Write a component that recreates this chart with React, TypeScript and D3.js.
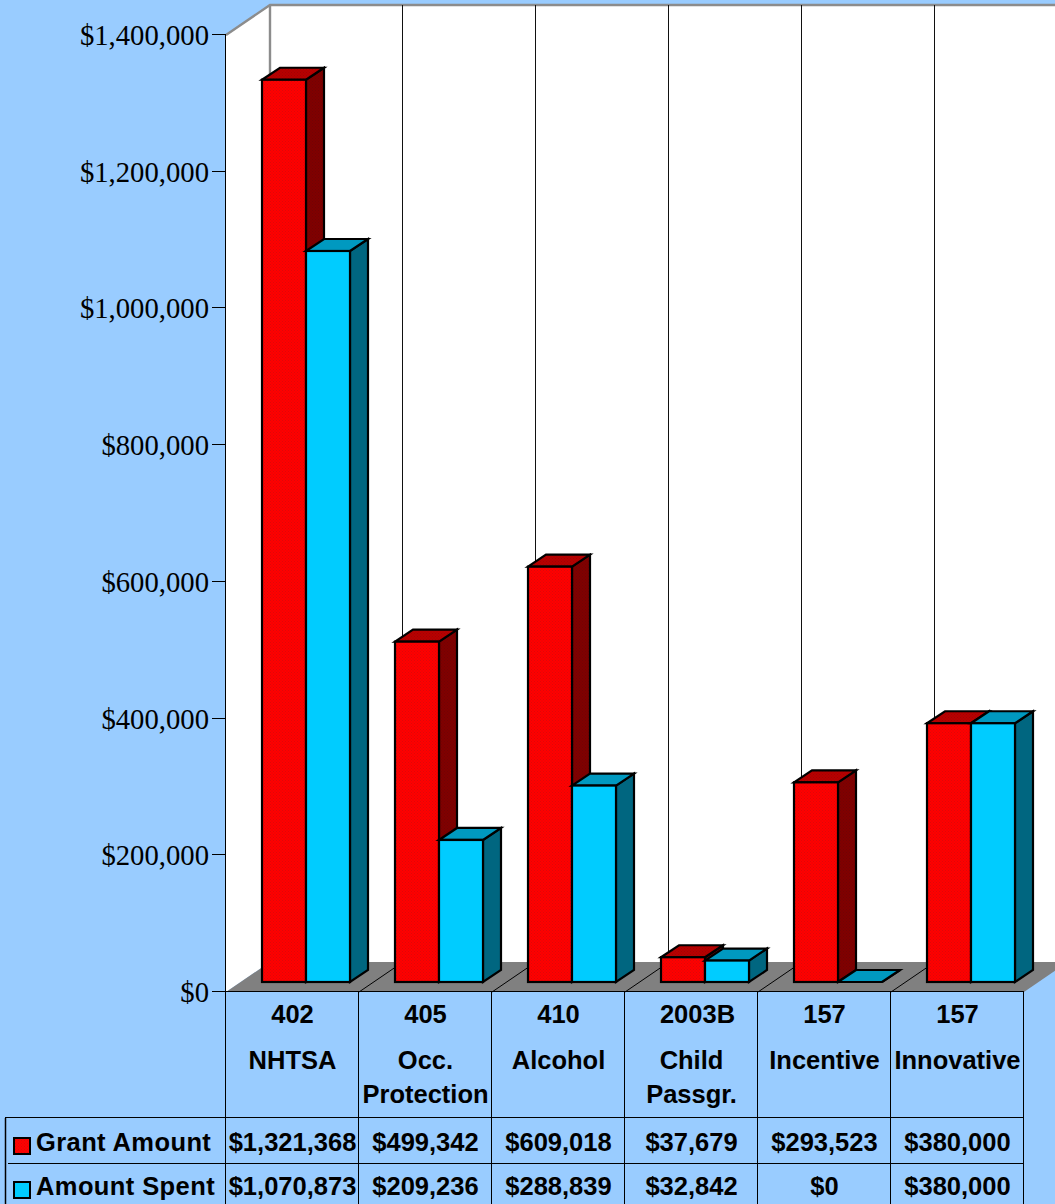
import React from "react";
import * as d3 from "d3";

const programs = ["402", "405", "410", "2003B", "157", "157"];
const programNames = [["NHTSA"], ["Occ.", "Protection"], ["Alcohol"], ["Child", "Passgr."], ["Incentive"], ["Innovative"]];
const grantAmount = [1321368, 499342, 609018, 37679, 293523, 380000];
const amountSpent = [1070873, 209236, 288839, 32842, 0, 380000];
const grantLabels = ["$1,321,368", "$499,342", "$609,018", "$37,679", "$293,523", "$380,000"];
const spentLabels = ["$1,070,873", "$209,236", "$288,839", "$32,842", "$0", "$380,000"];
const axisTicks = [0, 200000, 400000, 600000, 800000, 1000000, 1200000, 1400000];

const W = 1055, H = 1204;
const DX = 44, DY = -30;          // depth of the whole plot box
const BAR_DX = 18, BAR_DY = -12;  // depth of one bar
const BAR_BASE = 982;             // bars stand behind the front edge of the floor
const BAR_TOP_SHIFT = 9;          // top faces sit a little lower than the base offset
const PLOT_L = 226, PLOT_R = 1024, AXIS_TOP = 35, AXIS_BOTTOM = 992;

const y = d3.scaleLinear().domain([0, 1400000]).range([AXIS_BOTTOM, AXIS_TOP]);
const x = d3.scaleBand<number>().domain(d3.range(6)).range([PLOT_L, PLOT_R]);
const money = d3.format("$,");

const sans = "'Liberation Sans', Arial, sans-serif";
const serif = "'Liberation Serif', 'Times New Roman', serif";
const pts = (p: number[][]) => p.map((a) => a.join(",")).join(" ");
const snap = (v: number) => Math.round(v) + 0.5; // keeps 1px rules on a single pixel row

function Bar({ bx, value, front, top, side }: { bx: number; value: number; front: string; top: string; side: string }) {
  const w = 44;
  const b = BAR_BASE;
  const t = Math.min(y(value) - BAR_TOP_SHIFT, b);
  return (
    <g stroke="#000" strokeWidth={2.2} strokeLinejoin="miter">
      <polygon points={pts([[bx + w, t], [bx + w + BAR_DX, t + BAR_DY], [bx + w + BAR_DX, b + BAR_DY], [bx + w, b]])} fill={side} />
      <polygon points={pts([[bx, t], [bx + BAR_DX, t + BAR_DY], [bx + w + BAR_DX, t + BAR_DY], [bx + w, t]])} fill={top} />
      <rect x={bx} y={t} width={w} height={b - t} fill={front} />
    </g>
  );
}

export default function App() {
  const cols = d3.range(7).map((i) => (i < 6 ? x(i)! : PLOT_R));
  const rowA = 1118, rowB = 1164;
  return (
    <svg width={W} height={H} viewBox={`0 0 ${W} ${H}`} style={{ position: "absolute", left: 0, top: 0, display: "block" }}>
      <defs>
        <pattern id="redDither" width={3} height={3} patternUnits="userSpaceOnUse">
          <rect width={3} height={3} fill="#ff0000" />
          <rect width={1} height={1} fill="#dc0808" />
          <rect x={1.5} y={1.5} width={1} height={1} fill="#dc0808" />
        </pattern>
        <pattern id="redDitherTop" width={3} height={3} patternUnits="userSpaceOnUse">
          <rect width={3} height={3} fill="#b80000" />
          <rect width={1} height={1} fill="#a00404" />
          <rect x={1.5} y={1.5} width={1} height={1} fill="#a00404" />
        </pattern>
        <pattern id="redDitherSide" width={3} height={3} patternUnits="userSpaceOnUse">
          <rect width={3} height={3} fill="#800000" />
          <rect width={1} height={1} fill="#700404" />
          <rect x={1.5} y={1.5} width={1} height={1} fill="#700404" />
        </pattern>
      </defs>
      <rect width={W} height={H} fill="#99ccff" />

      {/* walls and floor of the 3D box */}
      <polygon points={pts([[PLOT_L, y(1400000)], [PLOT_L + DX, y(1400000) + DY], [W + 20, y(1400000) + DY], [W + 20, y(0) + DY], [PLOT_L + DX, y(0) + DY], [PLOT_L, y(0)]])} fill="#fff" />
      <polygon points={pts([[PLOT_L, y(0)], [PLOT_L + DX, y(0) + DY], [PLOT_R + DX, y(0) + DY], [PLOT_R, y(0)]])} fill="#808080" />
      <polyline points={pts([[PLOT_L, y(1400000)], [PLOT_L + DX, y(1400000) + DY], [W + 20, y(1400000) + DY]])} fill="none" stroke="#8c8c8c" strokeWidth={2.4} />
      <line x1={PLOT_L + DX} x2={PLOT_L + DX} y1={y(1400000) + DY} y2={y(0) + DY} stroke="#8c8c8c" strokeWidth={2.4} />
      {cols.slice(1, 6).map((c, i) => (
        <line key={i} x1={snap(c + DX - 1)} x2={snap(c + DX - 1)} y1={y(1400000) + DY} y2={y(0) + DY} stroke="#111" strokeWidth={1} />
      ))}
      {cols.slice(1, 6).map((c, i) => (
        <line key={i} x1={c} x2={c + DX} y1={y(0)} y2={y(0) + DY} stroke="#000" strokeWidth={1} />
      ))}

      {/* value axis */}
      <line x1={snap(PLOT_L - 1)} x2={snap(PLOT_L - 1)} y1={y(1400000)} y2={y(0)} stroke="#000" strokeWidth={1} />
      {axisTicks.map((t) => (
        <g key={t}>
          <line x1={PLOT_L - 14} x2={PLOT_L} y1={snap(y(t) - 1)} y2={snap(y(t) - 1)} stroke="#000" strokeWidth={1} />
          <text x={PLOT_L - 17} y={y(t) + 10} textAnchor="end" fontFamily={serif} fontSize={28.7} fill="#000">{money(t)}</text>
        </g>
      ))}

      {/* each pair of bars: the spent bar overlaps the grant bar's side face */}
      {grantAmount.map((g, i) => {
        const bx = x(i)! + 36;
        return (
          <g key={i}>
            <Bar bx={bx} value={g} front="url(#redDither)" top="url(#redDitherTop)" side="url(#redDitherSide)" />
            <Bar bx={bx + 44} value={amountSpent[i]} front="#00ccff" top="#0099c0" side="#006680" />
          </g>
        );
      })}

      {/* data table */}
      <g stroke="#000" strokeWidth={1}>
        {cols.map((c, i) => <line key={i} x1={snap(c - 1)} x2={snap(c - 1)} y1={AXIS_BOTTOM} y2={H} />)}
        <line x1={PLOT_L} x2={PLOT_R} y1={snap(AXIS_BOTTOM - 1)} y2={snap(AXIS_BOTTOM - 1)} />
        <line x1={5} x2={PLOT_R} y1={snap(rowA - 1)} y2={snap(rowA - 1)} />
        <line x1={8} x2={PLOT_R} y1={snap(rowB - 1)} y2={snap(rowB - 1)} />
        <line x1={5.5} x2={5.5} y1={rowA} y2={H} strokeWidth={1.5} />
      </g>
      <g fontFamily={sans} fontWeight="bold" fontSize={25.5} fill="#000" textAnchor="middle">
        {programs.map((p, i) => (
          <text key={i} x={(cols[i] + cols[i + 1]) / 2 + (p === "2003B" ? 6 : 0)} y={1023}>{p}</text>
        ))}
        {programNames.map((lines, i) =>
          lines.map((l, j) => (
            <text key={`${i}-${j}`} x={(cols[i] + cols[i + 1]) / 2} y={1069 + j * 34}>{l}</text>
          ))
        )}
        {grantLabels.map((l, i) => (
          <text key={i} x={(cols[i] + cols[i + 1]) / 2} y={1151}>{l}</text>
        ))}
        {spentLabels.map((l, i) => (
          <text key={i} x={(cols[i] + cols[i + 1]) / 2} y={1195}>{l}</text>
        ))}
      </g>

      {/* legend keys inside the first column */}
      <rect x={14} y={1138} width={16} height={16} fill="url(#redDither)" stroke="#000" strokeWidth={2} />
      <rect x={14} y={1182} width={16} height={16} fill="#00ccff" stroke="#000" strokeWidth={2} />
      <g fontFamily={sans} fontWeight="bold" fontSize={25.5} fill="#000" letterSpacing={0.4}>
        <text x={36} y={1151}>Grant Amount</text>
        <text x={36} y={1195}>Amount Spent</text>
      </g>
    </svg>
  );
}
